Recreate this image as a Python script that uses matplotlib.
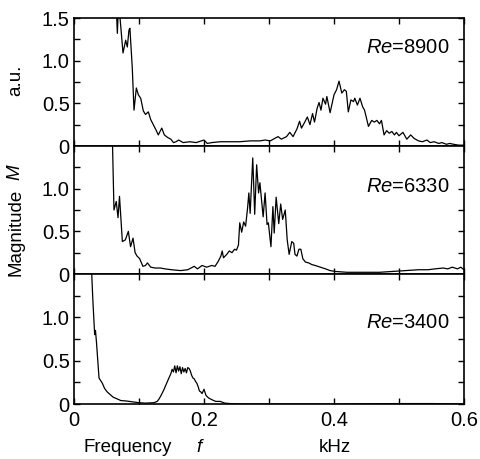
import matplotlib
matplotlib.use("Agg")
import matplotlib.pyplot as plt
from matplotlib.ticker import FixedLocator

plt.rcParams['font.family'] = ['Liberation Sans', 'DejaVu Sans']
plt.rcParams['mathtext.fontset'] = 'custom'
plt.rcParams['mathtext.it'] = 'Liberation Sans:italic'
plt.rcParams['mathtext.rm'] = 'Liberation Sans'

# ---------------- data ----------------
f_8900 = [0.062, 0.0667, 0.0682, 0.0697, 0.0754, 0.0795, 0.082, 0.0846, 0.086, 0.0897, 0.0923,
          0.0959, 0.099, 0.1026, 0.1067, 0.110, 0.1144, 0.118, 0.122, 0.126, 0.1297, 0.135, 0.139,
          0.144, 0.149, 0.153, 0.157, 0.161, 0.168, 0.178, 0.188, 0.200, 0.205, 0.212, 0.225, 0.240,
          0.255, 0.271, 0.286, 0.294, 0.302, 0.309, 0.314, 0.319, 0.327, 0.332, 0.337, 0.343, 0.347,
          0.350, 0.355, 0.359, 0.363, 0.367, 0.370, 0.374, 0.377, 0.380, 0.383, 0.387, 0.389, 0.394,
          0.398, 0.400, 0.404, 0.4077, 0.412, 0.416, 0.419, 0.422, 0.426, 0.430, 0.432, 0.436, 0.440,
          0.444, 0.447, 0.453, 0.458, 0.462, 0.466, 0.470, 0.473, 0.477, 0.481, 0.485, 0.489, 0.493,
          0.496, 0.500, 0.506, 0.512, 0.518, 0.523, 0.530, 0.536, 0.543, 0.548, 0.554, 0.561, 0.566,
          0.573, 0.578, 0.584, 0.592, 0.600]
v_8900 = [2.2, 1.32, 1.60, 1.60, 1.09, 1.24, 1.16, 1.36, 1.38, 0.91, 0.42,
          0.68, 0.60, 0.56, 0.41, 0.37, 0.40, 0.31, 0.25, 0.19, 0.13, 0.21, 0.13,
          0.10, 0.08, 0.04, 0.05, 0.07, 0.04, 0.05, 0.04, 0.07, 0.03, 0.04, 0.05, 0.05,
          0.05, 0.06, 0.06, 0.07, 0.06, 0.09, 0.11, 0.08, 0.11, 0.16, 0.11, 0.20, 0.29,
          0.21, 0.28, 0.34, 0.25, 0.38, 0.28, 0.44, 0.51, 0.42, 0.56, 0.49, 0.58, 0.39,
          0.53, 0.60, 0.66, 0.76, 0.62, 0.66, 0.64, 0.40, 0.54, 0.52, 0.56, 0.48, 0.56,
          0.46, 0.42, 0.23, 0.30, 0.28, 0.30, 0.26, 0.30, 0.13, 0.18, 0.15, 0.17, 0.13,
          0.16, 0.12, 0.16, 0.08, 0.13, 0.09, 0.06, 0.05, 0.07, 0.04, 0.05, 0.03, 0.04,
          0.02, 0.03, 0.02, 0.01, 0.01]

f_6330 = [0.055, 0.059, 0.0615, 0.065, 0.0677, 0.070, 0.0744, 0.079, 0.0836, 0.087, 0.0908,
          0.094, 0.097, 0.101, 0.106, 0.110, 0.113, 0.118, 0.125, 0.133, 0.140, 0.150, 0.164,
          0.175, 0.185, 0.190, 0.197, 0.204, 0.212, 0.217, 0.222, 0.226, 0.228, 0.230, 0.235,
          0.239, 0.243, 0.247, 0.250, 0.253, 0.255, 0.258, 0.261, 0.264, 0.267, 0.269, 0.271,
          0.275, 0.278, 0.281, 0.284, 0.286, 0.289, 0.291, 0.294, 0.297, 0.299, 0.303, 0.306,
          0.308, 0.311, 0.315, 0.318, 0.321, 0.325, 0.328, 0.331, 0.335, 0.338, 0.340, 0.343,
          0.346, 0.349, 0.352, 0.356, 0.361, 0.366, 0.371, 0.379, 0.387, 0.394, 0.402, 0.420,
          0.440, 0.455, 0.470, 0.490, 0.510, 0.530, 0.545, 0.555, 0.568, 0.575, 0.582, 0.590,
          0.595, 0.600]
v_6330 = [2.2, 1.60, 0.75, 0.85, 0.66, 0.91, 0.38, 0.40, 0.50, 0.32, 0.42,
          0.25, 0.21, 0.18, 0.09, 0.10, 0.13, 0.08, 0.07, 0.07, 0.06, 0.05, 0.04,
          0.05, 0.09, 0.06, 0.10, 0.08, 0.10, 0.09, 0.15, 0.21, 0.27, 0.19, 0.23,
          0.27, 0.25, 0.29, 0.28, 0.34, 0.60, 0.49, 0.61, 0.56, 0.77, 0.95, 0.71,
          1.36, 0.70, 1.28, 0.95, 1.07, 0.83, 0.67, 0.95, 0.58, 0.60, 0.32, 0.79,
          0.48, 0.90, 0.59, 0.82, 0.64, 0.75, 0.40, 0.23, 0.38, 0.36, 0.23, 0.21,
          0.29, 0.29, 0.18, 0.14, 0.13, 0.11, 0.10, 0.08, 0.06, 0.04, 0.03, 0.02,
          0.02, 0.02, 0.02, 0.03, 0.04, 0.05, 0.05, 0.06, 0.07, 0.06, 0.08, 0.06,
          0.08, 0.05]

f_3400 = [0.024, 0.0267, 0.029, 0.0318, 0.033, 0.0345, 0.0385, 0.041, 0.0436, 0.047, 0.051,
          0.054, 0.060, 0.066, 0.072, 0.080, 0.090, 0.100, 0.110, 0.123, 0.128, 0.131, 0.134,
          0.138, 0.142, 0.146, 0.149, 0.151, 0.153, 0.155, 0.157, 0.159, 0.161, 0.163, 0.165,
          0.167, 0.169, 0.171, 0.173, 0.175, 0.177, 0.179, 0.181, 0.183, 0.185, 0.187, 0.189,
          0.191, 0.193, 0.195, 0.197, 0.200, 0.203, 0.207, 0.212, 0.218, 0.225, 0.232, 0.240,
          0.260, 0.300, 0.400, 0.500, 0.550, 0.600]
v_3400 = [2.2, 1.60, 1.20, 0.80, 0.85, 0.72, 0.30, 0.27, 0.24, 0.18, 0.14,
          0.12, 0.08, 0.06, 0.04, 0.035, 0.025, 0.015, 0.01, 0.015, 0.03, 0.06, 0.10,
          0.16, 0.23, 0.30, 0.35, 0.40, 0.37, 0.44, 0.36, 0.44, 0.38, 0.43, 0.35,
          0.42, 0.37, 0.41, 0.36, 0.42, 0.41, 0.38, 0.33, 0.30, 0.29, 0.26, 0.24,
          0.20, 0.15, 0.14, 0.12, 0.17, 0.10, 0.07, 0.05, 0.03, 0.03, 0.01, 0.005,
          0.0, 0.0, 0.0, 0.005, 0.005, 0.0]

series = [(f_8900, v_8900, "8900"), (f_6330, v_6330, "6330"), (f_3400, v_3400, "3400")]
label_y = [1.15, 1.03, 0.94]
xticks_major = [0, 0.2, 0.4, 0.6]
xtick_labels = ["0", "0.2", "0.4", "0.6"]

# ---------------- figure ----------------
W, H = 481, 459
fig = plt.figure(figsize=(W / 100, H / 100), dpi=100)
left, right = 74 / W, 464 / W
edges = [18, 146, 274, 404]
FS = 13.5
TFS = 14.5

for i, (fx, vy, re) in enumerate(series):
    top = 1 - edges[i] / H
    bot = 1 - edges[i + 1] / H
    ax = fig.add_axes([left, bot, right - left, top - bot])
    ax.plot(fx, vy, color='black', lw=0.9)
    ax.set_xlim(0, 0.6)
    ax.set_ylim(0, 1.5)
    ax.xaxis.set_major_locator(FixedLocator(xticks_major))
    ax.xaxis.set_minor_locator(FixedLocator([0.1, 0.3, 0.5]))
    if i == 0:
        ax.set_yticks([0, 0.5, 1.0, 1.5])
        ax.set_yticklabels(["0", "0.5", "1.0", "1.5"])
    else:
        ax.set_yticks([0, 0.5, 1.0])
        ax.set_yticklabels(["0", "0.5", "1.0"])
    ax.yaxis.set_minor_locator(FixedLocator([0.25, 0.75, 1.25]))
    ax.tick_params(which='both', direction='in', length=4, width=1.0,
                   top=True, right=True, labelsize=TFS, pad=3)
    if i == 2:
        ax.set_xticklabels(xtick_labels)
        ax.tick_params(axis='x', pad=5)
    else:
        ax.tick_params(axis='x', labelbottom=False)
    for s in ax.spines.values():
        s.set_linewidth(1.2)
    ax.text(0.578, label_y[i], r"$\mathit{Re}$=" + re, ha='right', va='center',
            fontsize=TFS)

# axis labels
fig.text(16 / W, 1 - 80 / H, "a.u.", rotation=90, ha='center', va='center', fontsize=FS)
fig.text(16 / W, 1 - 172 / H, r"$\mathit{M}$", rotation=90, ha='center', va='center', fontsize=FS)
fig.text(16 / W, 1 - 232 / H, "Magnitude", rotation=90, ha='center', va='center', fontsize=FS)
fig.text(128 / W, 1 - 447 / H, "Frequency", ha='center', va='center', fontsize=FS)
fig.text(200 / W, 1 - 447 / H, r"$\mathit{f}$", ha='center', va='center', fontsize=FS)
fig.text(335 / W, 1 - 447 / H, "kHz", ha='center', va='center', fontsize=FS)

fig.savefig("out.png", dpi=100)
